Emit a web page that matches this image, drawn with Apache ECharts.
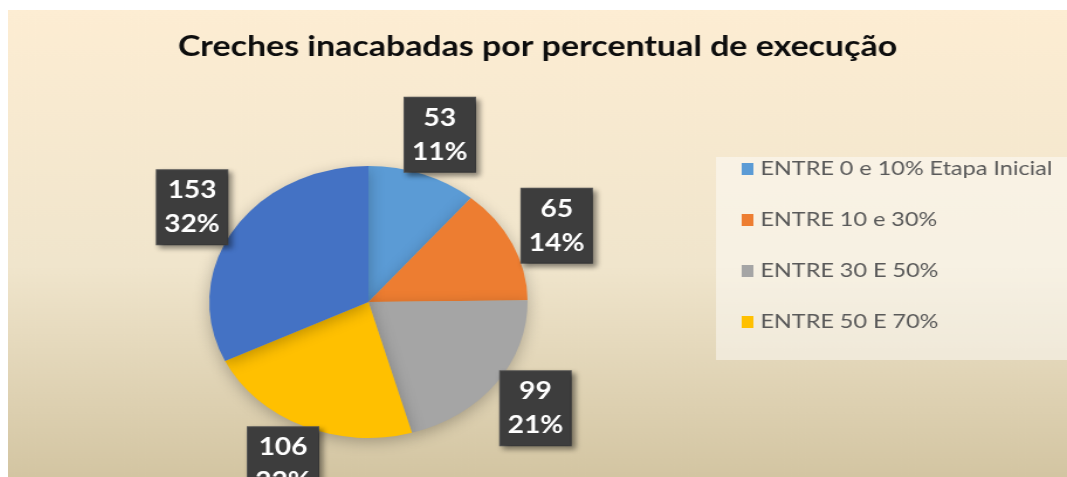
<!DOCTYPE html>
<html>
<head>
<meta charset="utf-8">
<script src="https://cdn.jsdelivr.net/npm/echarts@6/dist/echarts.min.js"></script>
<style>
body{margin:0;background:#fff;}
#chart{position:absolute;left:8px;top:10px;width:905px;height:467px;transform:scaleX(1.1702);transform-origin:0 0;}
</style>
</head>
<body>
<div id="chart"></div>
<script>
// faixas de execução e quantidade de creches
var faixas = ['ENTRE 0 e 10% Etapa Inicial', 'ENTRE 10 e 30%', 'ENTRE 30 E 50%', 'ENTRE 50 E 70%', 'ACIMA DE 70%'];
var creches = [53, 65, 99, 106, 153];
var cores = ['#5b9bd5', '#ed7d31', '#a5a5a5', '#ffc000', '#4472c4'];
var legendaFaixas = faixas.slice(0, 4);

var chart = echarts.init(document.getElementById('chart'));
var dados = [], rotulos = [];
for (var i = 0; i < faixas.length; i++) {
	dados.push({name: faixas[i], value: creches[i], itemStyle: {color: cores[i]}});
	rotulos.push({name: faixas[i], value: creches[i]});
}

chart.setOption({
	animation: false,
	backgroundColor: {
		type: 'linear', x: 0, y: 0, x2: 0, y2: 1,
		colorStops: [
			{offset: 0, color: '#fdedd3'},
			{offset: 0.55, color: '#f0e5cc'},
			{offset: 1, color: '#d3c5a2'}
		]
	},
	color: cores,
	title: {
		text: 'Creches inacabadas por percentual de execução',
		left: 'center',
		top: 17,
		textStyle: {fontFamily: 'Lato', fontWeight: 'bold', fontSize: 29, color: '#0d0d0d'}
	},
	graphic: [{
		type: 'rect',
		shape: {x: 605, y: 147, width: 310, height: 203},
		style: {fill: 'rgba(255,255,255,0.45)'},
		silent: true
	}],
	legend: {
		orient: 'vertical',
		left: 622,
		top: 144,
		data: legendaFaixas,
		itemWidth: 10,
		itemHeight: 12,
		itemGap: 31,
		icon: 'rect',
		textStyle: {fontFamily: 'Lato', fontSize: 20, color: '#595959', padding: [0, 0, 0, 1]}
	},
	series: [
		{
			type: 'pie',
			center: [308, 292],
			radius: 136,
			startAngle: 90,
			data: dados,
			label: {show: false},
			labelLine: {show: false},
			itemStyle: {shadowBlur: 14, shadowColor: 'rgba(0,0,0,0.25)', shadowOffsetY: 4},
			silent: true
		},
		{
			// anel invisível só para posicionar os rótulos
			type: 'pie',
			center: [308, 292],
			radius: [170, 180],
			startAngle: 90,
			percentPrecision: 0,
			data: rotulos,
			silent: true,
			itemStyle: {color: 'rgba(0,0,0,0)'},
			labelLine: {show: false},
			label: {
				show: true,
				position: 'inside',
				formatter: '{c}\n{d}%',
				fontFamily: 'Lato',
				fontWeight: 'bold',
				fontSize: 24,
				lineHeight: 34,
				color: '#fff',
				align: 'center',
				width: 56,
				padding: [3, 2],
				backgroundColor: '#3d3d3d',
				borderColor: '#555',
				borderWidth: 1,
				shadowColor: 'rgba(0,0,0,0.45)',
				shadowBlur: 5,
				shadowOffsetX: 3,
				shadowOffsetY: 3
			}
		}
	]
});
</script>
</body>
</html>
